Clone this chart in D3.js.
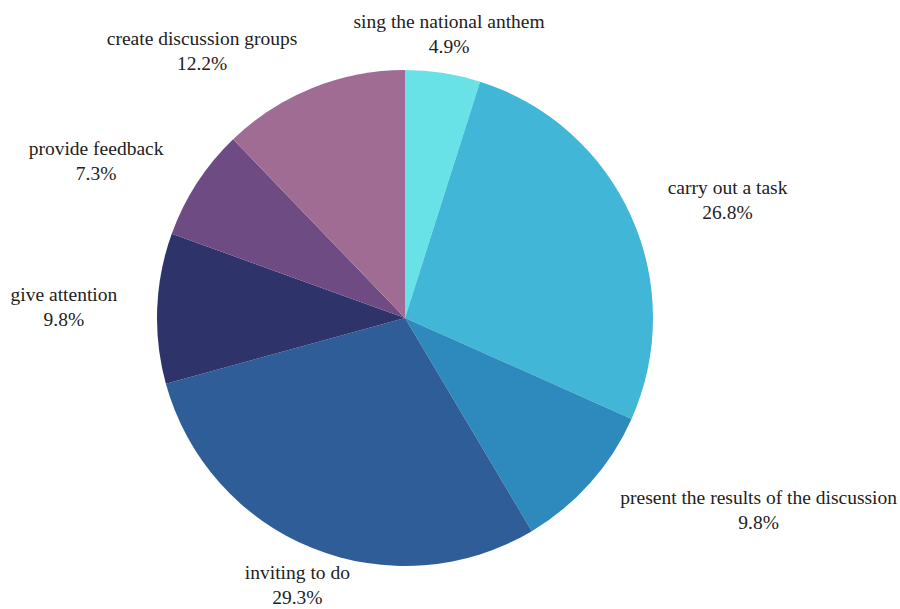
<!DOCTYPE html>
<html>
<head>
<meta charset="utf-8">
<script src="https://cdn.jsdelivr.net/npm/d3@7"></script>
<style>
  html, body { margin: 0; padding: 0; background: #fff; }
</style>
</head>
<body>
<div id="chart"></div>
<script>
// categories, in clockwise order starting at 12 o'clock
var categories = [
  'sing the national anthem',
  'carry out a task',
  'present the results of the discussion',
  'inviting to do',
  'give attention',
  'provide feedback',
  'create discussion groups'
];
var values = [4.9, 26.8, 9.8, 29.3, 9.8, 7.3, 12.2];
var valueLabels = ['4.9%', '26.8%', '9.8%', '29.3%', '9.8%', '7.3%', '12.2%'];
var colors = ['#68e2e7', '#42b6d6', '#2e8abc', '#2f5d98', '#2e336a', '#6e4b83', '#a06c94'];

var width = 900, height = 609;
var cx = 405, cy = 318, radius = 248, labelRadius = 288;
var fontSize = 19.5, lineGap = 25;
var fontFamily = "'Liberation Serif', 'DejaVu Serif', 'Times New Roman', serif";

var data = categories.map(function(c, i) {
  return { name: c, value: values[i], label: valueLabels[i], color: colors[i] };
});

var svg = d3.select('#chart').append('svg')
  .attr('width', width)
  .attr('height', height);

var g = svg.append('g').attr('transform', 'translate(' + cx + ',' + cy + ')');

var pie = d3.pie().sort(null).value(function(d) { return d.value; });
var arc = d3.arc().innerRadius(0).outerRadius(radius);
var arcs = pie(data);

g.selectAll('path.slice')
  .data(arcs)
  .enter().append('path')
  .attr('class', 'slice')
  .attr('d', arc)
  .attr('fill', function(d) { return d.data.color; });

// which way a label hangs off its anchor point
function anchorOf(a) {
  var s = Math.sin(a), c = Math.cos(a);
  if (Math.abs(s) < 0.2 || (c < 0 && Math.abs(s) < 0.4)) return 'middle';
  return s > 0 ? 'start' : 'end';
}

var labels = g.selectAll('g.label')
  .data(arcs)
  .enter().append('g')
  .attr('class', 'label');

labels.each(function(d) {
  var el = d3.select(this);
  var mid = (d.startAngle + d.endAngle) / 2;
  var px = labelRadius * Math.sin(mid);
  var py = -labelRadius * Math.cos(mid);

  var t1 = el.append('text').text(d.data.name);
  var t2 = el.append('text').text(d.data.label);
  el.selectAll('text')
    .attr('font-family', fontFamily)
    .attr('font-size', fontSize)
    .attr('fill', '#222')
    .attr('text-anchor', 'middle');

  var w = Math.max(t1.node().getComputedTextLength(), t2.node().getComputedTextLength());
  var anchor = anchorOf(mid);
  var xc = anchor === 'middle' ? px : (anchor === 'start' ? px + w / 2 : px - w / 2);

  t1.attr('x', xc).attr('y', py - lineGap / 2).attr('dy', '0.35em');
  t2.attr('x', xc).attr('y', py + lineGap / 2).attr('dy', '0.35em');
});
</script>
</body>
</html>
